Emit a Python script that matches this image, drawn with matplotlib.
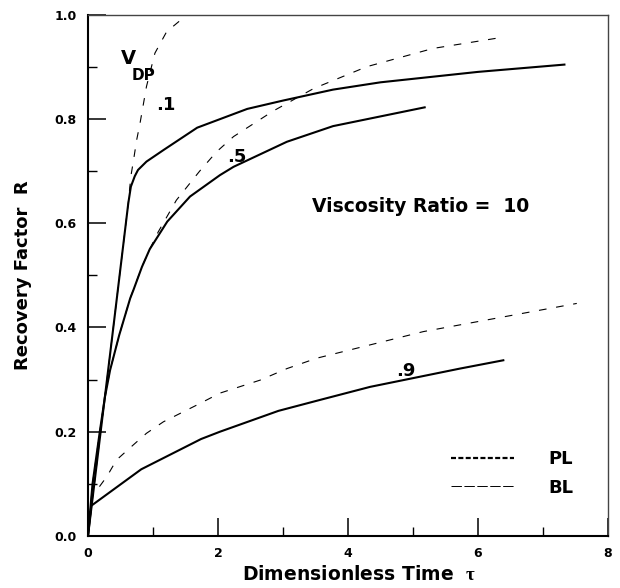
import numpy as np
import matplotlib.pyplot as plt
from matplotlib.lines import Line2D

plt.rcParams['font.family'] = 'DejaVu Sans'
plt.rcParams['font.weight'] = 'bold'
plt.rcParams['mathtext.fontset'] = 'custom'
plt.rcParams['mathtext.it'] = 'Liberation Serif'
plt.rcParams['mathtext.rm'] = 'Liberation Serif'
plt.rcParams['lines.scale_dashes'] = False

# solid curves (VDP = .1, .5, .9)
t_s1 = [0, 0.39, 0.62, 0.66, 0.72, 0.77, 0.90, 1.16, 1.68, 2.45, 3.0, 3.77, 4.5, 6.0, 7.33]
r_s1 = [0, 0.40, 0.638, 0.67, 0.69, 0.702, 0.718, 0.740, 0.783, 0.819, 0.835, 0.856, 0.870, 0.890, 0.904]

t_s5 = [0, 0.07, 0.185, 0.26, 0.34, 0.48, 0.65, 0.70, 0.83, 0.95, 1.22, 1.57, 2.03, 2.24, 3.06, 3.77, 5.18]
r_s5 = [0, 0.10, 0.203, 0.266, 0.318, 0.385, 0.456, 0.472, 0.516, 0.550, 0.603, 0.651, 0.692, 0.708, 0.756, 0.786, 0.822]

t_s9 = [0, 0.05, 0.82, 1.74, 2.03, 2.93, 3.57, 4.34, 5.72, 6.39]
r_s9 = [0, 0.058, 0.128, 0.186, 0.200, 0.240, 0.261, 0.286, 0.321, 0.337]

# dashed curves
t_d1 = [0, 0.39, 0.62, 0.66, 0.70, 0.75, 0.80, 0.90, 1.03, 1.21, 1.49]
r_d1 = [0, 0.40, 0.638, 0.69, 0.72, 0.76, 0.791, 0.862, 0.926, 0.967, 0.996]

t_d5 = [0, 0.07, 0.185, 0.26, 0.34, 0.48, 0.65, 0.83, 0.95, 1.08, 1.36, 1.72, 1.98, 2.24, 2.85, 3.47, 4.29, 5.31, 6.36]
r_d5 = [0, 0.10, 0.203, 0.266, 0.318, 0.385, 0.456, 0.516, 0.550, 0.583, 0.644, 0.700, 0.737, 0.766, 0.815, 0.858, 0.900, 0.935, 0.956]

t_d9 = [0, 0.06, 0.29, 0.44, 0.70, 0.90, 1.16, 1.72, 2.03, 2.65, 3.06, 3.52, 5.16, 7.52]
r_d9 = [0, 0.075, 0.114, 0.146, 0.175, 0.197, 0.219, 0.254, 0.274, 0.299, 0.321, 0.341, 0.392, 0.446]

fig = plt.figure(figsize=(6.2, 5.88), dpi=100)
ax = fig.add_axes([0.1419, 0.0884, 0.8387, 0.8869])

solid_kw = dict(color='black', lw=1.5, solid_joinstyle='round')
dash_kw = dict(color='black', lw=0.8, dashes=(5.5, 7))

ax.plot(t_s1, r_s1, **solid_kw)
ax.plot(t_s5, r_s5, **solid_kw)
ax.plot(t_s9, r_s9, **solid_kw)
ax.plot(t_d1, r_d1, **dash_kw)
ax.plot(t_d5, r_d5, **dash_kw)
ax.plot(t_d9, r_d9, **dash_kw)

ax.set_xlim(0, 8)
ax.set_ylim(0, 1.0)
ax.set_xticks([0, 2, 4, 6, 8])
ax.set_xticks([1, 3, 5, 7], minor=True)
ax.set_yticks(np.arange(0, 1.01, 0.2))
ax.set_yticklabels(['0.0', '0.2', '0.4', '0.6', '0.8', '1.0'])
ax.set_yticks(np.arange(0.1, 1.0, 0.2), minor=True)
ax.tick_params(which='major', direction='in', length=13, width=1.1, labelsize=9, pad=8)
ax.tick_params(which='minor', direction='in', length=6.5, width=1.0)

for s in ['left', 'bottom']:
    ax.spines[s].set_linewidth(1.5)
for s in ['top', 'right']:
    ax.spines[s].set_linewidth(1.0)
    ax.spines[s].set_color('#444444')

ax.set_xlabel(r'Dimensionless Time  $\tau$', fontsize=13.5, fontweight='bold')
ax.xaxis.set_label_coords(0.521, -0.056)
ax.set_ylabel('Recovery Factor  R', fontsize=13, fontweight='bold')
ax.yaxis.set_label_coords(-0.107, 0.5)

ax.text(5.12, 0.631, 'Viscosity Ratio =  10', ha='center', va='center', fontsize=13.5)
ax.text(0.63, 0.915, 'V', ha='center', va='center', fontsize=14)
ax.text(0.85, 0.884, 'DP', ha='center', va='center', fontsize=11)
ax.text(1.20, 0.826, '.1', ha='center', va='center', fontsize=13)
ax.text(2.29, 0.727, '.5', ha='center', va='center', fontsize=13)
ax.text(4.89, 0.317, '.9', ha='center', va='center', fontsize=13)

h_pl = Line2D([], [], color='black', lw=1.6, dashes=(3.6, 1.7))
h_bl = Line2D([], [], color='black', lw=0.7, dashes=(7.5, 1.8))
ax.legend([h_pl, h_bl], ['PL', 'BL'], loc='upper left', bbox_to_anchor=(0.699, 0.165),
          frameon=False, fontsize=13, handlelength=3.45, handletextpad=1.9,
          labelspacing=0.6, borderpad=0, borderaxespad=0)

fig.savefig('out.png', dpi=100)
